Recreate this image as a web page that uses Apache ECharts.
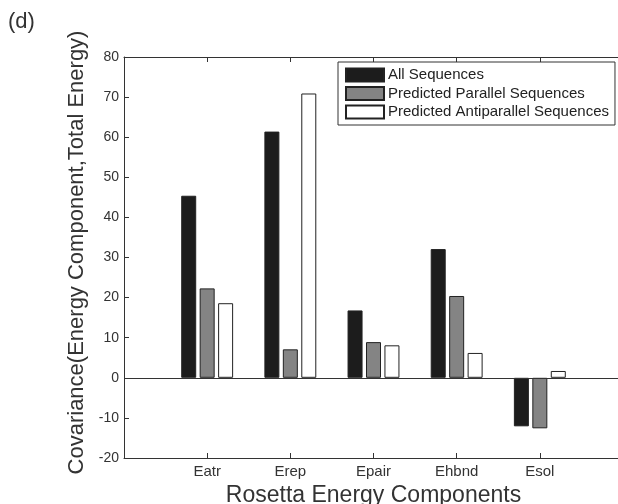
<!DOCTYPE html>
<html>
<head>
<meta charset="utf-8">
<script src="https://cdn.jsdelivr.net/npm/echarts@6/dist/echarts.min.js"></script>
<style>
  html, body { margin: 0; padding: 0; background: #fff; }
  #chart { width: 618px; height: 504px; }
</style>
</head>
<body>
<div id="chart"></div>
<script>
// Rosetta energy components and their covariance with total energy
const categories = ['Eatr', 'Erep', 'Epair', 'Ehbnd', 'Esol'];
const allSequences = [45.4, 61.4, 16.8, 32.1, -12.1];
const parallelSequences = [22.3, 7.1, 8.9, 20.4, -12.6];
const antiparallelSequences = [18.6, 70.9, 8.1, 6.2, 1.7];
const yTicks = { min: -20, max: 80, interval: 10 };

// pad the category axis with an empty slot on each side
const axisCats = [''].concat(categories, ['']);
const pad = arr => ['-'].concat(arr, ['-']);

const FONT = 'Liberation Sans, Arial, Helvetica, sans-serif';
const AXIS_COLOR = '#333';

const chart = echarts.init(document.getElementById('chart'), null, { renderer: 'canvas' });

const barBase = {
  type: 'bar',
  barWidth: 15,
  barGap: '23%',
  animation: false
};

const catTicks = (i, v) => v !== '';

chart.setOption({
  backgroundColor: '#fff',
  textStyle: { fontFamily: FONT },
  title: {
    text: '(d)',
    left: 8,
    top: 11,
    padding: 0,
    textStyle: { fontSize: 22, fontWeight: 'normal', color: '#333', fontFamily: FONT }
  },
  grid: { left: 124, width: 499, top: 57, height: 401, outerBoundsMode: 'none', containLabel: false },
  legend: {
    orient: 'vertical',
    left: 338,
    top: 62,
    padding: [5, 6, 5, 7],
    itemWidth: 38,
    itemHeight: 13,
    itemGap: 2.5,
    icon: 'rect',
    borderColor: '#333',
    borderWidth: 1,
    backgroundColor: '#fff',
    textStyle: { fontSize: 15, lineHeight: 16, color: '#222', fontFamily: FONT, padding: [0, 0, 0, -1] },
    data: ['All Sequences', 'Predicted Parallel Sequences', 'Predicted Antiparallel Sequences']
  },
  xAxis: [
    {
      type: 'category',
      data: axisCats,
      boundaryGap: false,
      position: 'bottom',
      name: 'Rosetta Energy Components',
      nameLocation: 'middle',
      nameGap: 19,
      nameTextStyle: { fontSize: 23, color: '#333', fontFamily: FONT, verticalAlign: 'top' },
      axisLine: { onZero: false, lineStyle: { color: AXIS_COLOR, width: 1 } },
      axisTick: { inside: true, length: 5, lineStyle: { color: AXIS_COLOR }, interval: catTicks },
      axisLabel: { fontSize: 15, color: '#333', margin: 6, fontFamily: FONT, interval: 0 },
      splitLine: { show: false }
    },
    {
      type: 'category',
      data: axisCats,
      boundaryGap: false,
      position: 'top',
      axisLine: { onZero: false, lineStyle: { color: AXIS_COLOR, width: 1 } },
      axisTick: { inside: true, length: 5, lineStyle: { color: AXIS_COLOR }, interval: catTicks },
      axisLabel: { show: false },
      splitLine: { show: false }
    }
  ],
  yAxis: [
    {
      type: 'value',
      min: yTicks.min,
      max: yTicks.max,
      interval: yTicks.interval,
      name: 'Covariance(Energy Component,Total Energy)',
      nameLocation: 'middle',
      nameGap: 29,
      nameTextStyle: { fontSize: 22, color: '#333', fontFamily: FONT, padding: [0, 0, 0, 10] },
      axisLine: { show: true, lineStyle: { color: AXIS_COLOR, width: 1 } },
      axisTick: { show: true, inside: true, length: 5, lineStyle: { color: AXIS_COLOR } },
      axisLabel: { fontSize: 14, color: '#333', margin: 5, fontFamily: FONT },
      splitLine: { show: false }
    }
  ],
  series: [
    Object.assign({}, barBase, {
      name: 'All Sequences',
      data: pad(allSequences),
      itemStyle: { color: '#1c1c1c', borderColor: '#222', borderWidth: 1 },
      markLine: {
        silent: true,
        symbol: 'none',
        label: { show: false },
        lineStyle: { color: '#333', type: 'solid', width: 1 },
        data: [{ yAxis: 0 }],
        animation: false
      }
    }),
    Object.assign({}, barBase, {
      name: 'Predicted Parallel Sequences',
      data: pad(parallelSequences),
      itemStyle: { color: '#848484', borderColor: '#222', borderWidth: 1 }
    }),
    Object.assign({}, barBase, {
      name: 'Predicted Antiparallel Sequences',
      data: pad(antiparallelSequences),
      itemStyle: { color: '#ffffff', borderColor: '#222', borderWidth: 1 }
    })
  ]
});
</script>
</body>
</html>
